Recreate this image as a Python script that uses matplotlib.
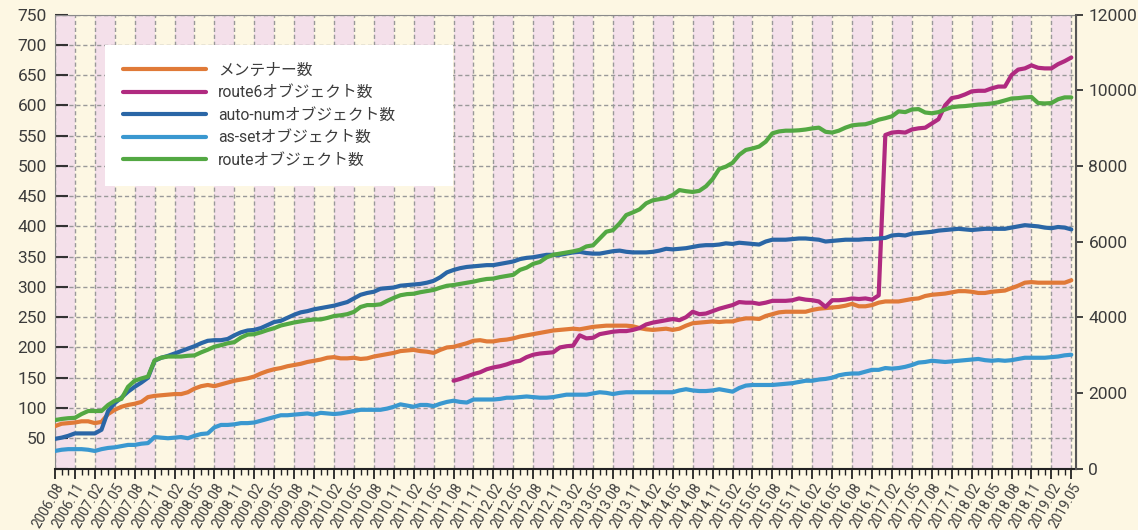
import matplotlib.pyplot as plt
import numpy as np

plt.rcParams['font.family'] = ['Roboto', 'Noto Sans CJK JP', 'DejaVu Sans']

# monthly data, 2006.08 - 2019.05
start_year, start_month = 2006, 8
n_months = 154

maint = [70, 74, 75, 76, 78, 78, 75, 77, 90, 97, 102, 105,
         107, 110, 118, 120, 121, 122, 123, 123, 126, 132, 136, 138,
         136, 139, 142, 145, 147, 149, 152, 157, 161, 164, 166, 169,
         171, 173, 176, 178, 180, 183, 184, 182, 182, 183, 181, 182,
         185, 187, 189, 191, 194, 195, 196, 194, 193, 191, 196, 200,
         201, 204, 207, 211, 212, 210, 210, 212, 213, 215, 218, 220,
         222, 224, 226, 228, 229, 230, 231, 230, 232, 234, 235, 236,
         236, 236, 236, 235, 232, 230, 229, 230, 231, 229, 231, 236,
         240, 241, 242, 243, 242, 243, 243, 246, 248, 248, 247, 252,
         255, 258, 259, 259, 259, 259, 262, 264, 265, 266, 267, 269,
         272, 268, 268, 270, 274, 276, 276, 276, 278, 280, 281, 285,
         287, 288, 289, 291, 293, 293, 292, 290, 290, 292, 293, 294,
         298, 302, 307, 308, 307, 307, 307, 307, 307, 311]

# route6 starts at 2011.08
route6 = [np.nan] * 60 + [
    145, 148, 152, 156, 159, 164, 167, 169, 172, 176, 178, 184,
    188, 190, 191, 192, 200, 202, 203, 220, 215, 216, 222, 224,
    226, 227, 227, 229, 232, 238, 241, 243, 245, 247, 245, 250,
    259, 255, 256, 260, 264, 267, 270, 275, 274, 274, 272, 274,
    277, 277, 277, 278, 281, 279, 278, 276, 267, 278, 278, 279,
    281, 280, 281, 279, 286, 551, 555, 556, 555, 560, 562, 563,
    570, 577, 600, 612, 614, 618, 623, 624, 624, 628, 631, 631,
    650, 659, 661, 666, 662, 661, 661, 668, 673, 679]

autnum = [49, 51, 54, 58, 58, 58, 58, 64, 95, 108, 117, 127,
          135, 142, 150, 178, 183, 186, 190, 194, 198, 202, 207, 211,
          212, 212, 214, 220, 225, 228, 229, 232, 237, 242, 244, 249,
          254, 258, 260, 263, 265, 267, 269, 272, 275, 281, 287, 290,
          292, 297, 298, 299, 302, 303, 304, 305, 307, 310, 316, 324,
          328, 331, 333, 334, 335, 336, 336, 338, 340, 342, 346, 348,
          349, 351, 353, 353, 353, 355, 357, 358, 356, 355, 355, 357,
          359, 360, 358, 357, 357, 357, 358, 360, 363, 362, 363, 364,
          366, 368, 369, 369, 370, 372, 371, 373, 372, 371, 370, 375,
          378, 378, 378, 379, 380, 380, 379, 378, 375, 376, 377, 378,
          378, 378, 379, 379, 380, 381, 385, 386, 385, 388, 389, 390,
          391, 393, 394, 395, 396, 395, 394, 395, 396, 396, 396, 396,
          398, 400, 402, 401, 400, 398, 397, 399, 398, 395]

asset = [29, 31, 32, 32, 32, 31, 29, 32, 34, 35, 37, 39,
         39, 41, 42, 52, 51, 50, 51, 52, 50, 54, 57, 58,
         68, 72, 72, 73, 75, 75, 76, 79, 82, 85, 88, 88,
         89, 90, 91, 89, 92, 91, 90, 91, 93, 95, 97, 97,
         97, 97, 99, 102, 106, 104, 102, 105, 105, 103, 107, 110,
         112, 110, 109, 114, 114, 114, 114, 115, 117, 117, 118, 119,
         118, 117, 117, 118, 120, 122, 122, 122, 122, 124, 126, 125,
         123, 125, 126, 126, 126, 126, 126, 126, 126, 126, 129, 131,
         129, 128, 128, 129, 131, 129, 127, 133, 137, 138, 138, 138,
         138, 139, 140, 141, 143, 145, 145, 147, 148, 150, 154, 156,
         157, 157, 160, 163, 163, 166, 165, 166, 168, 171, 175, 176,
         178, 177, 176, 177, 178, 179, 180, 181, 179, 178, 179, 178,
         179, 181, 183, 183, 183, 183, 184, 185, 187, 188]

# route objects (right axis)
route = [1280, 1310, 1330, 1340, 1440, 1520, 1520, 1520, 1680, 1790, 1840, 2160,
         2320, 2380, 2430, 2860, 2930, 2960, 2960, 2960, 2980, 2990, 3070, 3140,
         3220, 3260, 3310, 3340, 3460, 3540, 3550, 3600, 3660, 3710, 3780, 3820,
         3860, 3890, 3920, 3940, 3940, 3980, 4030, 4050, 4080, 4140, 4270, 4320,
         4320, 4340, 4430, 4510, 4580, 4610, 4620, 4660, 4690, 4720, 4780, 4830,
         4850, 4880, 4910, 4940, 4980, 5010, 5020, 5060, 5090, 5120, 5250, 5310,
         5410, 5460, 5580, 5650, 5680, 5710, 5740, 5780, 5870, 5900, 6080, 6260,
         6300, 6480, 6700, 6770, 6850, 7010, 7090, 7120, 7150, 7230, 7360, 7330,
         7310, 7340, 7460, 7650, 7920, 7980, 8080, 8290, 8420, 8460, 8510, 8640,
         8860, 8910, 8930, 8930, 8940, 8960, 8990, 9010, 8900, 8880, 8930, 9010,
         9070, 9090, 9100, 9150, 9220, 9260, 9310, 9440, 9420, 9490, 9500, 9410,
         9390, 9420, 9490, 9550, 9570, 9580, 9600, 9620, 9630, 9650, 9680, 9730,
         9780, 9790, 9810, 9820, 9660, 9650, 9660, 9760, 9810, 9810]

labels = ['メンテナー数', 'route6オブジェクト数', 'auto-numオブジェクト数',
          'as-setオブジェクト数', 'routeオブジェクト数']
colors = ['#e07a38', '#b02a80', '#2a66a6', '#3a98d0', '#53a843']

bg = '#fdf7e3'
pink = '#f4e0ea'
txt = '#3c3c3c'

months = np.arange(n_months)
tick_labels = []
for m in range(0, n_months, 3):
    y = start_year + (start_month - 1 + m) // 12
    mo = (start_month - 1 + m) % 12 + 1
    tick_labels.append('%d.%02d' % (y, mo))

fig = plt.figure(figsize=(11.38, 5.30), dpi=100, facecolor=bg)
ax = fig.add_axes([0.0483, 0.116, 0.8972, 0.8566])
ax.set_facecolor(bg)

for q in range(0, n_months - 1, 6):
    ax.axvspan(q, q + 3, color=pink, lw=0, zorder=0)

ax.set_xlim(0, 153.7)
ax.set_ylim(0, 750)

ax.set_xticks(months[::3])
ax.set_xticklabels(tick_labels, rotation=60, ha='right', rotation_mode='anchor', fontsize=9.8, color=txt)
ax.set_xticks(months, minor=True)
ax.set_yticks(np.arange(0, 751, 50))
ax.set_yticklabels([''] + [str(v) for v in range(50, 751, 50)], fontsize=12.5, color=txt)

ax.grid(True, which='major', color='#999999', ls=(0, (3, 2)), lw=1.0, zorder=1)
ax.set_axisbelow(True)
ax.tick_params(axis='y', direction='in', length=9, width=1.5, color='#333333', pad=6)
ax.tick_params(axis='x', which='major', direction='out', length=7, width=1.3, color='#222222', pad=2)
ax.tick_params(axis='x', which='minor', direction='out', length=4, width=1.0, color='#222222')

for s in ['left', 'right', 'top']:
    ax.spines[s].set_color('#8a8a8a')
ax.spines['bottom'].set_color('#222222')
ax.spines['bottom'].set_linewidth(1.5)

handles = []
for vals, c, lab in zip([maint, route6, autnum, asset], colors[:4], labels[:4]):
    h, = ax.plot(months, vals, color=c, lw=3, solid_capstyle='round', zorder=3, label=lab)
    handles.append(h)

ax2 = ax.twinx()
ax2.set_ylim(0, 12000)
ax2.set_yticks(np.arange(0, 12001, 2000))
ax2.set_yticklabels([str(v) for v in range(0, 12001, 2000)], fontsize=12.5, color=txt)
ax2.tick_params(axis='y', direction='out', length=5, width=1.3, color='#333333', pad=4)
ax2.spines['right'].set_color('#555555')
ax2.spines['right'].set_linewidth(1.5)
for s in ['left', 'top', 'bottom']:
    ax2.spines[s].set_visible(False)
h, = ax2.plot(months, route, color=colors[4], lw=3, solid_capstyle='round', zorder=3, label=labels[4])
handles.append(h)

# legend box: x 105-453 px, y 45-190 px
leg = ax2.legend(handles=handles, loc='upper left',
                 bbox_to_anchor=(0.049, 0.613, 0.341, 0.32), mode='expand',
                 frameon=True, facecolor='white', edgecolor='none', fancybox=False,
                 framealpha=1, prop={'family': ['Roboto', 'Noto Sans CJK JP'], 'size': 11.3},
                 handlelength=5.3, handletextpad=0.75, labelspacing=0.47,
                 borderpad=1.15, borderaxespad=0)
for t in leg.get_texts():
    t.set_color(txt)
leg.get_frame().set_linewidth(0)
leg.set_zorder(10)

fig.savefig('out.png', dpi=100, facecolor=bg)
